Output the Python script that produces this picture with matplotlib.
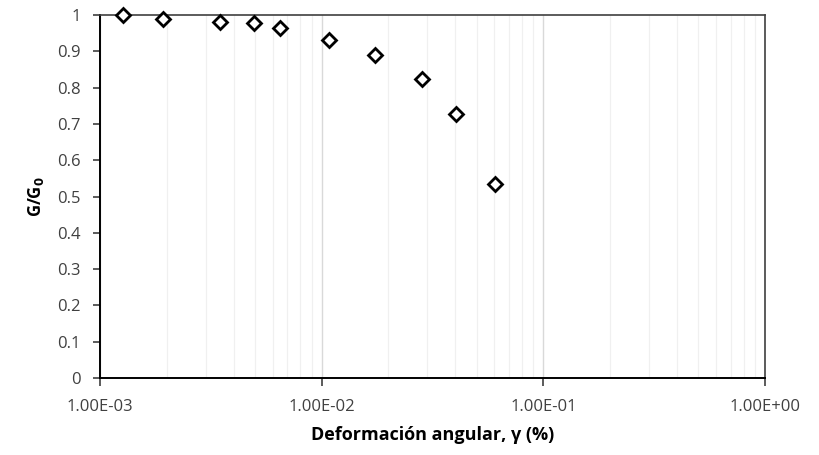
import matplotlib.pyplot as plt
from matplotlib.ticker import LogLocator, FixedLocator, NullFormatter

# data
deformacion = [1.27e-3, 1.92e-3, 3.48e-3, 4.95e-3, 6.49e-3,
               1.08e-2, 1.74e-2, 2.83e-2, 4.05e-2, 6.05e-2]
g_g0 = [1.0, 0.989, 0.982, 0.978, 0.963, 0.930, 0.889, 0.824, 0.727, 0.535]

x_ticks = [1e-3, 1e-2, 1e-1, 1e0]
x_labels = ["1.00E-03", "1.00E-02", "1.00E-01", "1.00E+00"]
y_ticks = [0, 0.1, 0.2, 0.3, 0.4, 0.5, 0.6, 0.7, 0.8, 0.9, 1]
y_labels = ["0", "0.1", "0.2", "0.3", "0.4", "0.5", "0.6", "0.7", "0.8", "0.9", "1"]

plt.rcParams['font.family'] = ['Open Sans', 'DejaVu Sans']
text_col = "#404040"

fig = plt.figure(figsize=(8.2, 4.55), dpi=100)
ax = fig.add_axes([0.122, 0.169, 0.811, 0.798])

ax.plot(deformacion, g_g0, linestyle="none", marker="D", markersize=7.2,
        markerfacecolor="white", markeredgecolor="black", markeredgewidth=2.0,
        zorder=3, clip_on=False)

ax.set_xscale("log")
ax.set_xlim(1e-3, 1e0)
ax.set_ylim(0, 1)

ax.xaxis.set_major_locator(FixedLocator(x_ticks))
ax.set_xticklabels(x_labels)
ax.xaxis.set_minor_locator(LogLocator(base=10, subs=range(2, 10)))
ax.xaxis.set_minor_formatter(NullFormatter())
ax.set_yticks(y_ticks)
ax.set_yticklabels(y_labels)

ax.grid(True, which="minor", axis="x", color="#f0f0f0", linewidth=0.9, zorder=0)
ax.grid(True, which="major", axis="x", color="#d9d9d9", linewidth=1.0, zorder=0)
ax.set_axisbelow(True)

ax.tick_params(axis="x", which="major", direction="out", length=6, width=1.2,
               colors="#404040", labelcolor=text_col, labelsize=12, pad=9)
ax.tick_params(axis="x", which="minor", length=0)
ax.tick_params(axis="y", direction="out", length=5, width=1.2,
               colors="#404040", labelcolor=text_col, labelsize=12, pad=9)

for side in ["left", "bottom"]:
    ax.spines[side].set_color("black")
    ax.spines[side].set_linewidth(1.4)
for side in ["top", "right"]:
    ax.spines[side].set_color("#404040")
    ax.spines[side].set_linewidth(1.2)

ax.set_xlabel("Deformación angular, γ (%)", fontsize=13, fontweight="bold",
              color="black", labelpad=8)
ax.set_ylabel("G/G$_\\mathbf{0}$", fontsize=12, fontweight="bold",
              color="black", labelpad=8)

fig.savefig("out.png", dpi=100)
